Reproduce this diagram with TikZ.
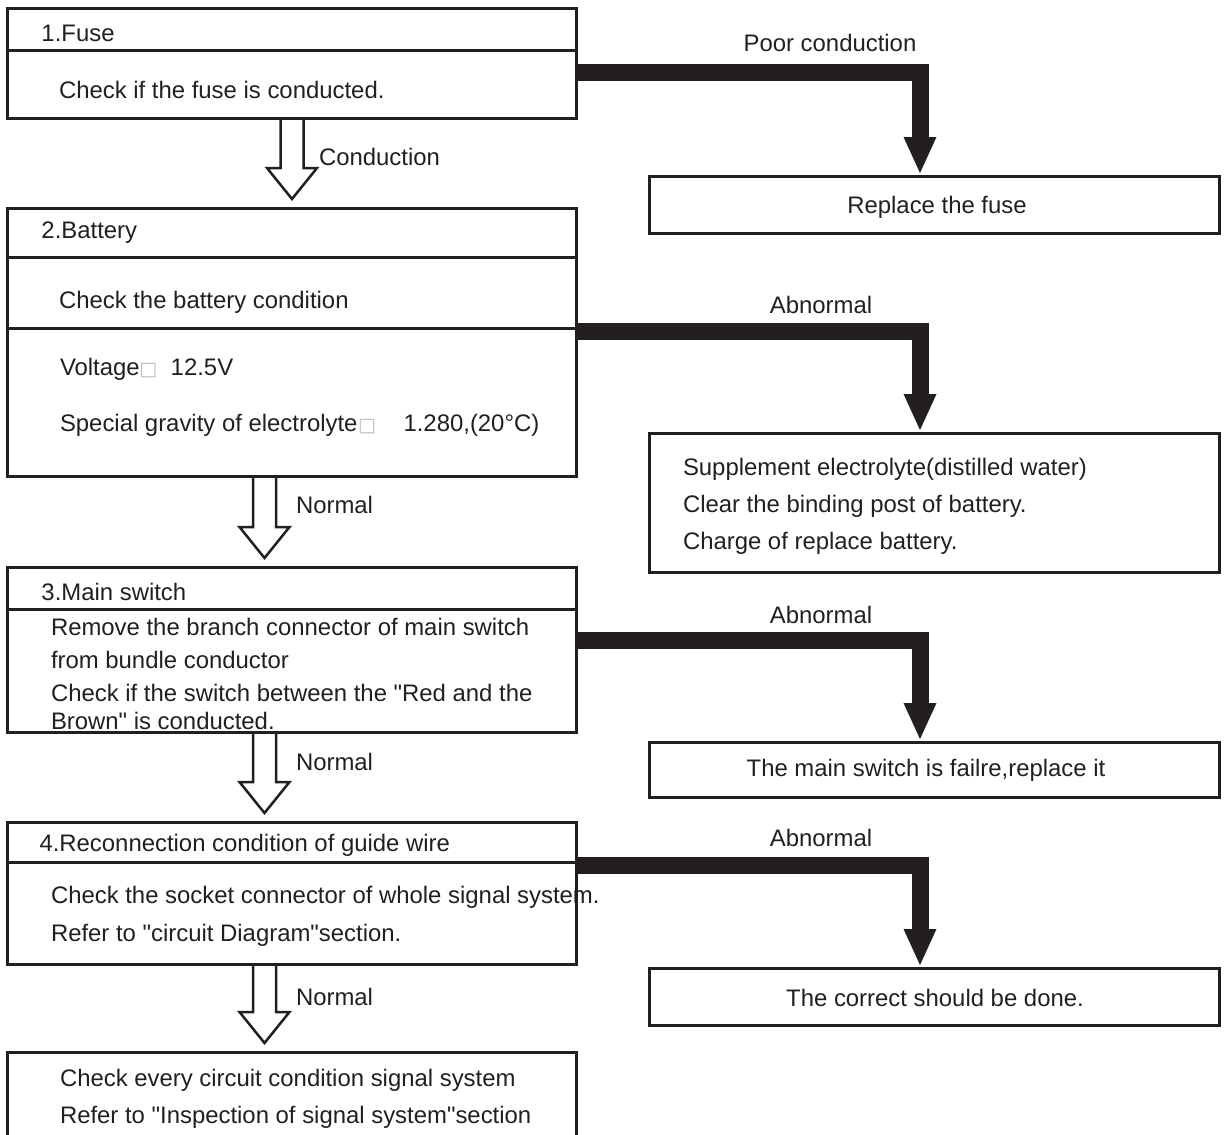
\documentclass[tikz,border=0pt]{standalone}
\usepackage{fontspec}
\setmainfont{Liberation Sans}[Ligatures=TeXOff]
\newfontfamily\glyphfont{DejaVu Sans}
\usetikzlibrary{arrows.meta,calc}
\definecolor{ink}{RGB}{35,31,32}
% placeholder glyph printed where a character was lost
\newcommand{\lostglyph}{\makebox[13pt][c]{\glyphfont\fontsize{19pt}{19pt}\selectfont\color{gray!55}□}}

\begin{document}
\begin{tikzpicture}[x=1pt,y=-1pt,
  every node/.style={inner sep=0pt, outer sep=0pt},
  box/.style={draw=ink, line width=3pt, rectangle},
  lbox/.style={box, minimum width=569pt},
  rbox/.style={box, minimum width=570pt},
  rule/.style={draw=ink, line width=3pt},
  txt/.style={anchor=west, text=ink, font=\fontsize{23.9pt}{28pt}\selectfont, text height=17pt, text depth=0pt},
  ctxt/.style={txt, anchor=center},
  hollow/.style={draw=ink, line width=2.5pt, line join=miter,
    to path={let \p1=(\tikztostart), \p2=(\tikztotarget) in
      (\x1-11.5pt,\y1) -- (\x1-11.5pt,\y2+40.5pt) -- (\x1-25pt,\y2+40.5pt)
      -- (\x1,\y2+9.5pt) -- (\x1+25pt,\y2+40.5pt) -- (\x1+11.5pt,\y2+40.5pt)
      -- (\x1+11.5pt,\y1)}},
  fault/.style={draw=ink, line width=17pt, line join=miter,
    -{Triangle[length=36pt,width=33pt,line width=0pt]}}
]
\useasboundingbox (0,0) rectangle (1224,1135);
\clip (0,0) rectangle (1224,1135);

% check steps (left column)
\node[lbox, minimum height=110pt]  (b1) at (292,63.5)  {};
\node[lbox, minimum height=268pt]  (b2) at (292,342.5) {};
\node[lbox, minimum height=165pt]  (b3) at (292,650)   {};
\node[lbox, minimum height=142pt]  (b4) at (292,893.5) {};
\node[lbox, minimum height=97.5pt] (b5) at (292,1101.25) {};

% header / section rules inside the step boxes
\draw[rule] (b1.west |- 0,50)  -- (b1.east |- 0,50);
\draw[rule] (b2.west |- 0,257) -- (b2.east |- 0,257);
\draw[rule] (b2.west |- 0,328) -- (b2.east |- 0,328);
\draw[rule] (b3.west |- 0,609) -- (b3.east |- 0,609);
\draw[rule] (b4.west |- 0,862) -- (b4.east |- 0,862);

% remedies (right column)
\node[rbox, minimum height=57pt]  (r1) at (934.5,205) {};
\node[rbox, minimum height=139pt] (r2) at (934.5,503) {};
\node[rbox, minimum height=55pt]  (r3) at (934.5,770) {};
\node[rbox, minimum height=57pt]  (r4) at (934.5,997) {};

% step texts
\node[txt] (t1h) at (41.5,33) {1.Fuse};
\node[txt] (t1a) at (59,90) {Check if the fuse is conducted.};

\node[txt] (t2h) at (41.5,230) {2.Battery};
\node[txt] (t2a) at (59,300) {Check the battery condition};
\node[txt] (t2b) at (60,367) {Voltage\hspace{2pt}\lostglyph\hspace{16pt}12.5V};
\node[txt] (t2c) at (60,423) {Special gravity of electrolyte\hspace{3pt}\lostglyph\hspace{30pt}1.280,(20°C)};

\node[txt] (t3h) at (41.5,592) {3.Main switch};
\node[txt] (t3a) at (51,627) {Remove the branch connector of main switch};
\node[txt] (t3b) at (51,660) {from bundle conductor};
\node[txt] (t3c) at (51,693) {Check if the switch between the "Red and the};
\node[txt] (t3d) at (51,721) {Brown" is conducted.};

\node[txt] (t4h) at (39.5,843) {4.Reconnection condition of guide wire};
\node[txt] (t4a) at (51,895) {Check the socket connector of whole signal system.};
\node[txt] (t4b) at (51,933) {Refer to "circuit Diagram"section.};

\node[txt] (t5a) at (60,1078) {Check every circuit condition signal system};
\node[txt] (t5b) at (60,1115) {Refer to "Inspection of signal system"section};

% remedy texts
\node[ctxt] (u1) at (937,205) {Replace the fuse};
\node[txt] (u2a) at (683,467) {Supplement electrolyte(distilled water)};
\node[txt] (u2b) at (683,504) {Clear the binding post of battery.};
\node[txt] (u2c) at (683,541) {Charge of replace battery.};
\node[ctxt] (u3) at (926,768) {The main switch is failre,replace it};
\node[ctxt] (u4) at (935,998) {The correct should be done.};

% pass connectors (hollow arrows)
\draw[hollow] (b1.south) to (b2.north);
\draw[hollow] ([xshift=-27.5pt]b2.south) to (b3.north);
\draw[hollow] ([xshift=-27.5pt]b3.south) to (b4.north);
\draw[hollow] ([xshift=-27.5pt]b4.south) to (b5.north);

\node[txt] (l1) at (319,157) {Conduction};
\node[txt] (l2) at (296,505) {Normal};
\node[txt] (l3) at (296,762) {Normal};
\node[txt] (l4) at (296,997) {Normal};

% fault connectors (solid arrows)
\draw[fault] (b1.east |- 0,72)    -| ([xshift=-14.5pt,yshift=3.5pt]r1.north);
\draw[fault] (b2.east |- 0,331)   -| ([xshift=-14.5pt,yshift=3.5pt]r2.north);
\draw[fault] (b3.east |- 0,640.5) -| ([xshift=-14.5pt,yshift=3.5pt]r3.north);
\draw[fault] (b4.east |- 0,865.5) -| ([xshift=-14.5pt,yshift=3.5pt]r4.north);

\node[ctxt] (f1) at (830,43)  {Poor conduction};
\node[ctxt] (f2) at (821,305) {Abnormal};
\node[ctxt] (f3) at (821,615) {Abnormal};
\node[ctxt] (f4) at (821,838) {Abnormal};
\end{tikzpicture}
\end{document}
